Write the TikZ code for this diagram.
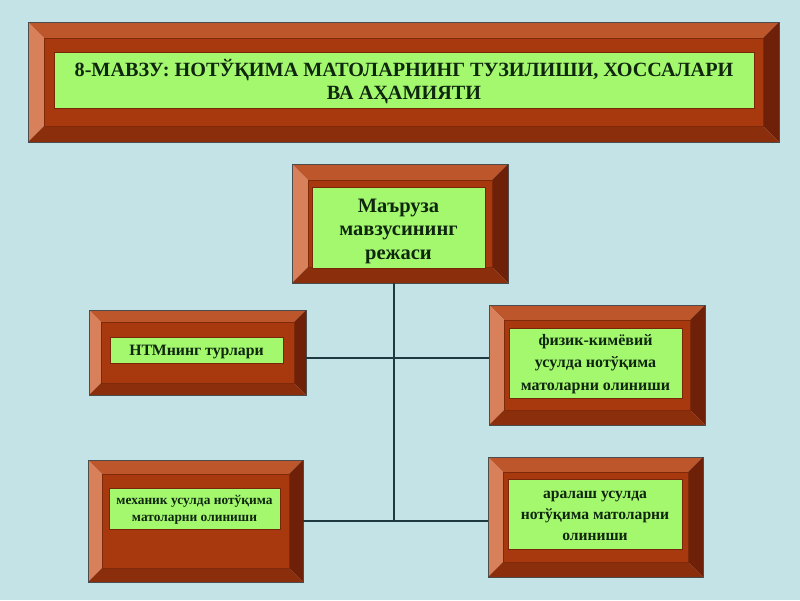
\documentclass[tikz,border=0pt]{standalone}
\usepackage{fontspec}
\setmainfont{Liberation Serif}
\usetikzlibrary{calc}
\definecolor{bg}{HTML}{C3E3E6}
\definecolor{face}{HTML}{A8380E}
\definecolor{btop}{HTML}{BE562C}
\definecolor{bleft}{HTML}{D8805A}
\definecolor{bright}{HTML}{6E2008}
\definecolor{bbot}{HTML}{8A2E0C}
\definecolor{grn}{HTML}{A4F86E}
\definecolor{txt}{HTML}{0F260F}
\definecolor{ln}{HTML}{1E3A40}
\tikzset{
  frame/.style={inner sep=0pt,outer sep=0pt,draw=none},
  greenbox/.style={fill=grn,draw=face!70!black,line width=0.6pt,inner sep=0pt,outer sep=0pt,
     text=txt,align=center,font=\bfseries},
  boxtext/.style={inner sep=0pt,text=txt,align=center},
  conn/.style={draw=ln,line width=1.3pt}
}
\newcommand\bevbox[6]{%
  \node[frame,minimum width=#4pt,minimum height=#5pt] (#1) at (#2,#3) {};
  \coordinate (#1nw) at ($(#1.north west)+(#6pt,-#6pt)$);
  \coordinate (#1ne) at ($(#1.north east)+(-#6pt,-#6pt)$);
  \coordinate (#1sw) at ($(#1.south west)+(#6pt,#6pt)$);
  \coordinate (#1se) at ($(#1.south east)+(-#6pt,#6pt)$);
  \fill[face] (#1nw) rectangle (#1se);
  \fill[btop] (#1.north west) -- (#1.north east) -- (#1ne) -- (#1nw) -- cycle;
  \fill[bleft] (#1.north west) -- (#1nw) -- (#1sw) -- (#1.south west) -- cycle;
  \fill[bright] (#1.north east) -- (#1.south east) -- (#1se) -- (#1ne) -- cycle;
  \fill[bbot] (#1.south west) -- (#1sw) -- (#1se) -- (#1.south east) -- cycle;
  \draw[black!70,line width=0.5pt] (#1.north west) rectangle (#1.south east);
  \draw[face!75!black,line width=0.5pt] (#1nw) rectangle (#1se);
}
\begin{document}
\begin{tikzpicture}[x=1pt,y=-1pt]
\fill[bg] (0,0) rectangle (800,600);
\useasboundingbox (0,0) rectangle (800,600);

% title
\bevbox{T}{403.5}{82}{751}{120}{16}
\node[greenbox,minimum width=700pt,minimum height=56pt] (Tg) at (404,80) {};
\node[boxtext,font=\bfseries\fontsize{20.2}{23}\selectfont] (Tt) at (404,81.5)
  {8-МАВЗУ: НОТЎҚИМА МАТОЛАРНИНГ ТУЗИЛИШИ, ХОССАЛАРИ\\ВА АҲАМИЯТИ};

% centre
\bevbox{C}{400}{223.5}{216}{119}{16}
\node[greenbox,minimum width=173pt,minimum height=81pt] (Cg) at (398.5,227.5) {};
\node[boxtext,font=\bfseries\fontsize{20.5}{23.5}\selectfont] (Ct) at (398.5,231)
  {Маъруза\\мавзусининг\\режаси};

% left 1
\bevbox{L1}{197.5}{352.5}{217}{85}{12}
\node[greenbox,minimum width=173pt,minimum height=26pt] (L1g) at (196.5,350) {};
\node[boxtext,font=\bfseries\fontsize{15.8}{18}\selectfont] (L1t) at (196.5,352)
  {НТМнинг турлари};

% right 1
\bevbox{R1}{597}{365}{216}{120}{15}
\node[greenbox,minimum width=173pt,minimum height=70pt] (R1g) at (595.5,363) {};
\node[boxtext,font=\bfseries\fontsize{16}{22.5}\selectfont] (R1t) at (595.5,364)
  {физик-кимёвий\\усулда нотўқима\\матоларни олиниши};

% left 2
\bevbox{L2}{195.5}{521}{215}{122}{14}
\node[greenbox,minimum width=171pt,minimum height=41pt] (L2g) at (194.5,508.5) {};
\node[boxtext,font=\bfseries\fontsize{13.4}{17}\selectfont] (L2t) at (194.5,510)
  {механик усулда нотўқима\\матоларни олиниши};

% right 2
\bevbox{R2}{595.5}{517}{215}{120}{15}
\node[greenbox,minimum width=174pt,minimum height=70pt] (R2g) at (595,514) {};
\node[boxtext,font=\bfseries\fontsize{15.6}{21}\selectfont] (R2t) at (595,516)
  {аралаш усулда\\нотўқима матоларни\\олиниши};

% connectors
\coordinate (j1) at (394,358);
\coordinate (j2) at (394,521);
\draw[conn] (C.south -| j2) -- (j2);
\draw[conn] (L1.east |- j1) -- (R1.west |- j1);
\draw[conn] (L2.east |- j2) -- (R2.west |- j2);
\end{tikzpicture}
\end{document}
